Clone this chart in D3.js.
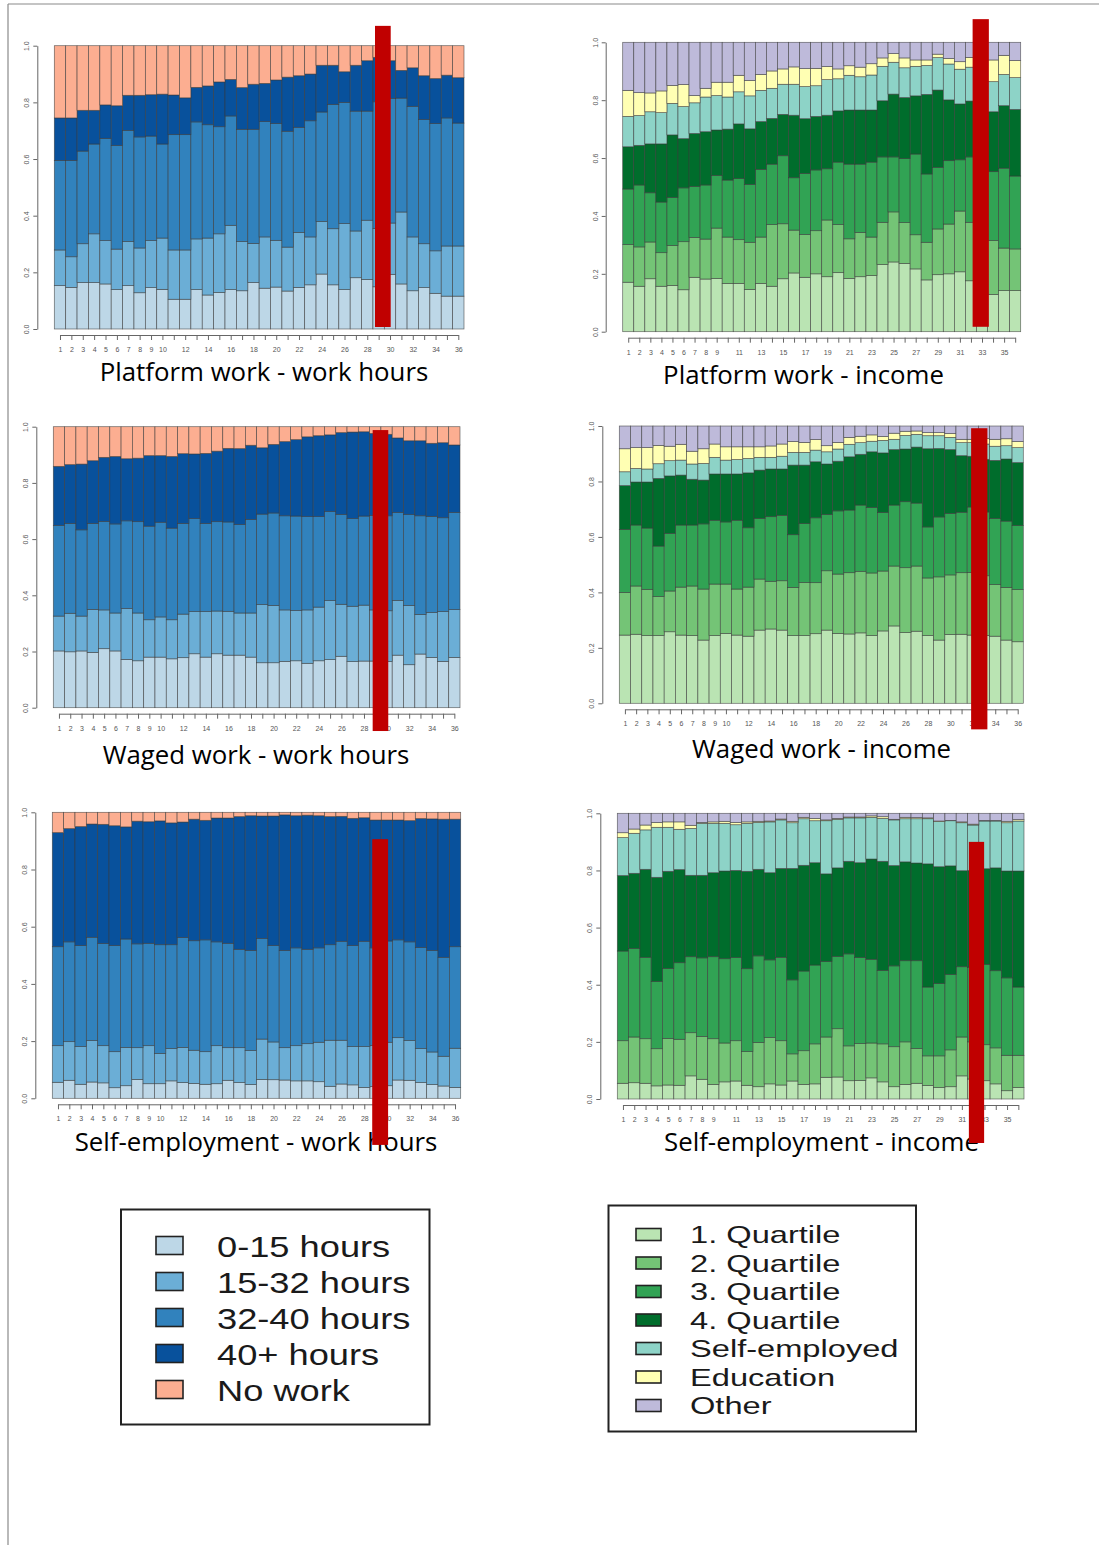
<!DOCTYPE html>
<html><head><meta charset="utf-8">
<script src="https://cdn.jsdelivr.net/npm/d3@7"></script>
<style>html,body{margin:0;padding:0;background:#fff}svg{display:block}</style>
</head><body>
<script>
// ---------- categories & labels ----------
const weeks = d3.range(1, 37);
const hourCats = ["0-15 hours", "15-32 hours", "32-40 hours", "40+ hours", "No work"];
const incomeCats = ["1. Quartile", "2. Quartile", "3. Quartile", "4. Quartile", "Self-employed", "Education", "Other"];
const hourColors = ["#bdd7e7", "#6baed6", "#3182bd", "#08519c", "#fcae91"];
const incomeColors = ["#bae4b3", "#74c476", "#31a354", "#006d2c", "#8dd3c7", "#ffffb3", "#bebada"];
const xLabelsA = [1,2,3,4,5,6,7,8,9,10,12,14,16,18,20,22,24,26,28,30,32,34,36];
const xLabelsB = [1,2,3,4,5,6,7,8,9,11,13,15,17,19,21,23,25,27,29,31,33,35];
const yTicks = [0, 0.2, 0.4, 0.6, 0.8, 1.0];

// ---------- data: cumulative upper edge of each layer (last layer reaches 1.0) ----------
// Platform work - work hours
const platHours_0_15  = [0.153,0.147,0.164,0.164,0.159,0.139,0.153,0.128,0.146,0.140,0.105,0.105,0.139,0.120,0.129,0.139,0.135,0.164,0.144,0.148,0.134,0.147,0.156,0.194,0.156,0.139,0.181,0.175,0.149,0.193,0.159,0.135,0.146,0.126,0.116,0.116];
const platHours_15_32 = [0.279,0.255,0.301,0.336,0.312,0.282,0.309,0.286,0.312,0.321,0.279,0.279,0.318,0.321,0.336,0.366,0.309,0.302,0.325,0.313,0.289,0.341,0.325,0.380,0.354,0.372,0.346,0.384,0.355,0.374,0.413,0.325,0.301,0.276,0.293,0.293];
const platHours_32_40 = [0.595,0.595,0.628,0.653,0.673,0.648,0.701,0.678,0.681,0.653,0.686,0.686,0.731,0.721,0.714,0.752,0.705,0.705,0.732,0.725,0.698,0.712,0.735,0.766,0.793,0.800,0.769,0.769,0.802,0.814,0.815,0.786,0.739,0.725,0.745,0.727];
const platHours_40p   = [0.745,0.745,0.772,0.772,0.791,0.788,0.825,0.825,0.827,0.829,0.826,0.816,0.853,0.858,0.872,0.881,0.852,0.864,0.867,0.879,0.889,0.894,0.900,0.931,0.931,0.908,0.931,0.947,0.959,0.947,0.913,0.922,0.894,0.884,0.896,0.887];
// Platform work - income
const platInc_q1  = [0.171,0.157,0.183,0.157,0.160,0.145,0.188,0.182,0.184,0.167,0.167,0.146,0.167,0.157,0.183,0.203,0.188,0.200,0.190,0.204,0.184,0.190,0.194,0.232,0.241,0.236,0.217,0.179,0.197,0.200,0.207,0.176,0.160,0.129,0.142,0.142];
const platInc_q2  = [0.301,0.293,0.310,0.273,0.298,0.311,0.326,0.320,0.358,0.327,0.318,0.309,0.327,0.370,0.373,0.351,0.336,0.349,0.386,0.370,0.321,0.343,0.327,0.378,0.414,0.377,0.335,0.309,0.355,0.372,0.417,0.378,0.350,0.315,0.289,0.286];
const platInc_q3  = [0.493,0.507,0.480,0.448,0.464,0.497,0.502,0.507,0.540,0.524,0.529,0.509,0.561,0.579,0.608,0.532,0.547,0.559,0.563,0.586,0.579,0.579,0.586,0.604,0.604,0.598,0.614,0.545,0.568,0.591,0.594,0.604,0.580,0.553,0.565,0.538];
const platInc_q4  = [0.639,0.644,0.649,0.649,0.680,0.667,0.685,0.691,0.697,0.700,0.718,0.701,0.726,0.737,0.751,0.748,0.736,0.744,0.748,0.763,0.766,0.766,0.766,0.798,0.821,0.809,0.815,0.820,0.835,0.801,0.787,0.797,0.780,0.760,0.781,0.768];
const platInc_self = [0.744,0.747,0.760,0.757,0.789,0.778,0.791,0.811,0.816,0.811,0.829,0.815,0.834,0.841,0.855,0.855,0.847,0.850,0.871,0.874,0.886,0.881,0.887,0.917,0.931,0.912,0.917,0.920,0.947,0.925,0.907,0.914,0.920,0.864,0.889,0.878];
const platInc_edu  = [0.834,0.826,0.825,0.832,0.851,0.854,0.816,0.841,0.862,0.862,0.886,0.868,0.889,0.901,0.908,0.915,0.909,0.910,0.916,0.908,0.919,0.914,0.926,0.946,0.961,0.946,0.939,0.939,0.959,0.944,0.933,0.948,0.950,0.939,0.955,0.937];
// Waged work - work hours
const wageHours_0_15  = [0.202,0.199,0.202,0.197,0.210,0.202,0.172,0.167,0.180,0.180,0.174,0.178,0.192,0.180,0.192,0.187,0.187,0.180,0.160,0.160,0.165,0.167,0.158,0.167,0.171,0.183,0.164,0.166,0.166,0.164,0.187,0.153,0.191,0.179,0.165,0.179];
const wageHours_15_32 = [0.326,0.336,0.326,0.350,0.348,0.337,0.353,0.337,0.313,0.323,0.313,0.333,0.342,0.342,0.344,0.343,0.337,0.337,0.367,0.364,0.348,0.346,0.348,0.358,0.381,0.368,0.361,0.365,0.348,0.345,0.382,0.364,0.332,0.339,0.342,0.349];
const wageHours_32_40 = [0.649,0.656,0.633,0.656,0.663,0.654,0.665,0.662,0.646,0.660,0.639,0.656,0.673,0.656,0.662,0.661,0.652,0.670,0.689,0.693,0.683,0.682,0.680,0.680,0.698,0.688,0.673,0.682,0.684,0.683,0.695,0.687,0.683,0.681,0.676,0.695];
const wageHours_40p   = [0.859,0.865,0.867,0.879,0.891,0.894,0.886,0.888,0.897,0.897,0.894,0.904,0.903,0.905,0.913,0.923,0.922,0.934,0.925,0.937,0.947,0.954,0.964,0.968,0.971,0.979,0.981,0.982,0.976,0.973,0.960,0.950,0.950,0.941,0.943,0.935];
// Waged work - income
const wageInc_q1  = [0.246,0.249,0.244,0.244,0.258,0.246,0.244,0.228,0.244,0.252,0.246,0.242,0.264,0.268,0.264,0.244,0.244,0.251,0.264,0.252,0.250,0.254,0.244,0.261,0.279,0.255,0.260,0.244,0.228,0.248,0.249,0.246,0.245,0.242,0.228,0.222];
const wageInc_q2  = [0.400,0.423,0.411,0.385,0.405,0.419,0.423,0.412,0.430,0.430,0.412,0.419,0.448,0.440,0.442,0.418,0.436,0.435,0.478,0.466,0.471,0.476,0.470,0.477,0.495,0.489,0.495,0.452,0.456,0.463,0.471,0.472,0.460,0.428,0.418,0.410];
const wageInc_q3  = [0.627,0.643,0.632,0.567,0.613,0.643,0.643,0.647,0.660,0.654,0.660,0.633,0.667,0.673,0.678,0.608,0.648,0.669,0.681,0.694,0.697,0.715,0.706,0.688,0.715,0.727,0.722,0.636,0.672,0.685,0.689,0.708,0.690,0.667,0.657,0.641];
const wageInc_q4  = [0.785,0.798,0.798,0.811,0.820,0.823,0.808,0.805,0.827,0.827,0.827,0.831,0.841,0.845,0.845,0.859,0.859,0.871,0.863,0.873,0.889,0.898,0.907,0.903,0.915,0.917,0.924,0.918,0.919,0.915,0.893,0.891,0.880,0.876,0.881,0.868];
const wageInc_self = [0.835,0.847,0.845,0.864,0.875,0.877,0.863,0.865,0.887,0.877,0.879,0.883,0.887,0.887,0.891,0.905,0.905,0.913,0.907,0.917,0.934,0.940,0.945,0.948,0.952,0.966,0.970,0.965,0.965,0.959,0.940,0.940,0.935,0.927,0.929,0.922];
const wageInc_edu  = [0.918,0.922,0.922,0.930,0.927,0.934,0.909,0.918,0.935,0.925,0.925,0.925,0.925,0.928,0.935,0.944,0.941,0.951,0.929,0.941,0.959,0.963,0.968,0.962,0.974,0.981,0.982,0.976,0.976,0.973,0.952,0.952,0.955,0.952,0.954,0.944];
// Self-employment - work hours
const selfHours_0_15  = [0.056,0.063,0.049,0.057,0.054,0.037,0.044,0.066,0.051,0.051,0.061,0.055,0.052,0.049,0.051,0.063,0.055,0.048,0.066,0.065,0.064,0.061,0.061,0.058,0.042,0.050,0.047,0.038,0.041,0.044,0.064,0.063,0.055,0.048,0.043,0.038];
const selfHours_15_32 = [0.184,0.198,0.181,0.202,0.184,0.163,0.178,0.177,0.184,0.157,0.174,0.178,0.168,0.163,0.184,0.177,0.177,0.167,0.207,0.197,0.177,0.184,0.191,0.196,0.203,0.203,0.181,0.181,0.185,0.196,0.212,0.202,0.174,0.162,0.147,0.175];
const selfHours_32_40 = [0.530,0.547,0.534,0.563,0.541,0.534,0.557,0.540,0.542,0.537,0.537,0.562,0.551,0.554,0.547,0.542,0.521,0.517,0.559,0.534,0.517,0.526,0.521,0.526,0.537,0.549,0.534,0.549,0.526,0.550,0.554,0.547,0.527,0.517,0.493,0.530];
const selfHours_40p   = [0.929,0.943,0.950,0.959,0.958,0.953,0.949,0.969,0.967,0.970,0.963,0.966,0.976,0.972,0.980,0.980,0.985,0.988,0.987,0.987,0.991,0.988,0.990,0.988,0.985,0.986,0.979,0.981,0.973,0.973,0.973,0.971,0.978,0.977,0.976,0.976];
// Self-employment - income
const selfInc_q1  = [0.055,0.057,0.055,0.046,0.049,0.048,0.081,0.069,0.051,0.060,0.063,0.048,0.043,0.053,0.049,0.063,0.051,0.053,0.076,0.077,0.064,0.065,0.074,0.060,0.043,0.051,0.055,0.047,0.040,0.043,0.081,0.070,0.064,0.053,0.029,0.040];
const selfInc_q2  = [0.204,0.217,0.211,0.176,0.212,0.209,0.232,0.219,0.211,0.196,0.204,0.166,0.198,0.215,0.204,0.158,0.169,0.193,0.217,0.246,0.186,0.194,0.196,0.193,0.183,0.200,0.177,0.151,0.151,0.172,0.217,0.200,0.190,0.179,0.153,0.153];
const selfInc_q3  = [0.518,0.527,0.496,0.411,0.457,0.477,0.498,0.494,0.498,0.491,0.495,0.456,0.501,0.487,0.496,0.417,0.448,0.469,0.481,0.499,0.508,0.495,0.489,0.450,0.466,0.484,0.484,0.392,0.404,0.436,0.463,0.460,0.471,0.449,0.424,0.392];
const selfInc_q4  = [0.782,0.790,0.804,0.776,0.797,0.803,0.783,0.783,0.792,0.798,0.800,0.797,0.804,0.792,0.807,0.807,0.818,0.827,0.788,0.809,0.832,0.827,0.840,0.832,0.817,0.830,0.826,0.823,0.813,0.816,0.799,0.800,0.806,0.809,0.798,0.798];
const selfInc_self = [0.915,0.930,0.942,0.951,0.951,0.944,0.947,0.965,0.965,0.965,0.960,0.965,0.968,0.970,0.977,0.967,0.981,0.974,0.974,0.979,0.984,0.984,0.986,0.982,0.977,0.981,0.981,0.981,0.971,0.974,0.967,0.959,0.973,0.973,0.967,0.973];
const selfInc_edu  = [0.932,0.945,0.959,0.968,0.970,0.970,0.958,0.968,0.970,0.972,0.968,0.970,0.972,0.973,0.980,0.972,0.986,0.982,0.977,0.982,0.987,0.987,0.991,0.988,0.979,0.986,0.985,0.984,0.973,0.975,0.970,0.962,0.975,0.975,0.972,0.978];

// red annotation bars: position in bar units (0..36) and value units
const redMarks = [
  {x0: 28.18, x1: 29.56, y0: 0.007, y1: 1.07},
  {x0: 31.65, x1: 33.12, y0: 0.017, y1: 1.08},
  {x0: 28.27, x1: 29.65, y0: -0.083, y1: 0.988},
  {x0: 31.35, x1: 32.8, y0: -0.094, y1: 0.992},
  {x0: 28.2, x1: 29.6, y0: -0.163, y1: 0.906},
  {x0: 31.12, x1: 32.47, y0: -0.154, y1: 0.9}
];

// ---------- panels ----------
const panels = [
  {title: "Platform work - work hours", cats: hourCats, colors: hourColors,
   cum: [platHours_0_15, platHours_15_32, platHours_32_40, platHours_40p], labels: xLabelsA,
   box: {l: 54.3, r: 464, t: 45.7, b: 329}, tx: 264, ty: 381.3},
  {title: "Platform work - income", cats: incomeCats, colors: incomeColors,
   cum: [platInc_q1, platInc_q2, platInc_q3, platInc_q4, platInc_self, platInc_edu], labels: xLabelsB,
   box: {l: 622.7, r: 1020.7, t: 42.3, b: 331.7}, tx: 803.5, ty: 384},
  {title: "Waged work - work hours", cats: hourCats, colors: hourColors,
   cum: [wageHours_0_15, wageHours_15_32, wageHours_32_40, wageHours_40p], labels: xLabelsA,
   box: {l: 53.3, r: 460, t: 426.7, b: 707.7}, tx: 256, ty: 764},
  {title: "Waged work - income", cats: incomeCats, colors: incomeColors,
   cum: [wageInc_q1, wageInc_q2, wageInc_q3, wageInc_q4, wageInc_self, wageInc_edu], labels: xLabelsA,
   box: {l: 619.3, r: 1023.3, t: 426, b: 703.3}, tx: 821.5, ty: 758},
  {title: "Self-employment - work hours", cats: hourCats, colors: hourColors,
   cum: [selfHours_0_15, selfHours_15_32, selfHours_32_40, selfHours_40p], labels: xLabelsA,
   box: {l: 52.3, r: 460.7, t: 812.3, b: 1098.3}, tx: 256, ty: 1150.6},
  {title: "Self-employment - income", cats: incomeCats, colors: incomeColors,
   cum: [selfInc_q1, selfInc_q2, selfInc_q3, selfInc_q4, selfInc_self, selfInc_edu], labels: xLabelsB,
   box: {l: 617.3, r: 1024, t: 813.3, b: 1099}, tx: 821.5, ty: 1151.3}
];

const W = 1099, H = 1545;
const svg = d3.select("body").append("svg").attr("width", W).attr("height", H);
svg.append("rect").attr("width", W).attr("height", H).attr("fill", "#fff");

// page border (top & left)
svg.append("line").attr("x1", 8).attr("y1", 4).attr("x2", W).attr("y2", 4).attr("stroke", "#8a8a8a").attr("stroke-width", 1.2);
svg.append("line").attr("x1", 8).attr("y1", 4).attr("x2", 8).attr("y2", H).attr("stroke", "#8a8a8a").attr("stroke-width", 1.2);

const redLayer = [];

panels.forEach((p, pi) => {
  const g = svg.append("g");
  const x = d3.scaleBand().domain(weeks).range([p.box.l, p.box.r]).padding(0);
  const y = d3.scaleLinear().domain([0, 1]).range([p.box.b, p.box.t]);

  // shares from cumulative boundaries
  const rows = weeks.map((w, i) => {
    const row = {week: w};
    let prev = 0;
    p.cats.forEach((c, k) => {
      const top = k < p.cum.length ? p.cum[k][i] : 1;
      row[c] = top - prev;
      prev = top;
    });
    return row;
  });
  const series = d3.stack().keys(p.cats)(rows);

  series.forEach((s, k) => {
    g.append("g").selectAll("rect").data(s).join("rect")
      .attr("x", d => x(d.data.week))
      .attr("width", x.bandwidth())
      .attr("y", d => y(d[1]))
      .attr("height", d => Math.max(0, y(d[0]) - y(d[1])))
      .attr("fill", p.colors[k])
      .attr("stroke", "#3a3a3a")
      .attr("stroke-opacity", 0.75)
      .attr("stroke-width", 0.7);
  });

  // y axis
  const ya = g.append("g").attr("transform", `translate(${p.box.l - 17},0)`)
    .call(d3.axisLeft(y).tickValues(yTicks).tickSize(4).tickSizeOuter(0).tickFormat(d3.format(".1f")));
  ya.selectAll("path,line").attr("stroke", "#666");
  ya.selectAll("text")
    .attr("transform", "rotate(-90)").attr("x", 0).attr("y", -8).attr("dy", 0)
    .attr("text-anchor", "middle").attr("fill", "#555")
    .style("font", "7px 'Liberation Sans', Arial, sans-serif");

  // x axis
  const xc = d3.scaleLinear().domain([1, 36])
    .range([x(1) + x.bandwidth() / 2, x(36) + x.bandwidth() / 2]);
  const xa = g.append("g").attr("transform", `translate(0,${p.box.b + 6})`)
    .call(d3.axisBottom(xc).tickValues(weeks).tickSize(5).tickSizeOuter(0).tickPadding(7)
      .tickFormat(d => p.labels.includes(d) ? d : ""));
  xa.selectAll("path,line").attr("stroke", "#666");
  xa.selectAll("text").filter(function () { return this.textContent === ""; }).remove();
  xa.selectAll("text").attr("fill", "#555")
    .style("font", "7px 'Liberation Sans', Arial, sans-serif");

  // title
  g.append("text").attr("x", p.tx).attr("y", p.ty).attr("text-anchor", "middle")
    .attr("fill", "#000").style("font", "25.8px 'Open Sans', sans-serif")
    .text(p.title);

  // red annotation bar
  const rm = redMarks[pi];
  const u = d3.scaleLinear().domain([0, 36]).range([p.box.l, p.box.r]);
  redLayer.push({x: u(rm.x0), w: u(rm.x1) - u(rm.x0), y: y(rm.y1), h: y(rm.y0) - y(rm.y1)});
});

svg.append("g").selectAll("rect").data(redLayer).join("rect")
  .attr("x", d => d.x).attr("y", d => d.y).attr("width", d => d.w).attr("height", d => d.h)
  .attr("fill", "#c00000");

// ---------- legends ----------
function legend(opts) {
  const g = svg.append("g");
  g.append("rect").attr("x", opts.box[0]).attr("y", opts.box[1])
    .attr("width", opts.box[2]).attr("height", opts.box[3])
    .attr("fill", "#fff").attr("stroke", "#222").attr("stroke-width", 2);
  const items = opts.cats.map((c, i) => ({c, col: opts.colors[i], cy: opts.y0 + i * opts.dy}));
  g.selectAll("rect.sw").data(items).join("rect").attr("class", "sw")
    .attr("x", opts.sx).attr("y", d => d.cy - opts.sh / 2)
    .attr("width", opts.sw).attr("height", opts.sh)
    .attr("fill", d => d.col).attr("stroke", "#222").attr("stroke-width", 1.6);
  g.selectAll("text").data(items).join("text")
    .attr("transform", d => `translate(${opts.tx},${d.cy + opts.base}) scale(${opts.stretch},1)`)
    .attr("fill", "#1a1a1a")
    .style("font", `${opts.fs}px 'Liberation Sans', Arial, sans-serif`)
    .text(d => d.c);
}
legend({cats: hourCats, colors: hourColors, box: [121, 1209.5, 308.5, 215],
  sx: 156, sw: 27, sh: 18, y0: 1245.5, dy: 36, tx: 217, base: 11, fs: 29, stretch: 1.25});
legend({cats: incomeCats, colors: incomeColors, box: [608.5, 1205.5, 307.5, 226],
  sx: 636, sw: 25, sh: 12, y0: 1234.5, dy: 28.5, tx: 690, base: 8.5, fs: 24, stretch: 1.36});
</script>
</body></html>
